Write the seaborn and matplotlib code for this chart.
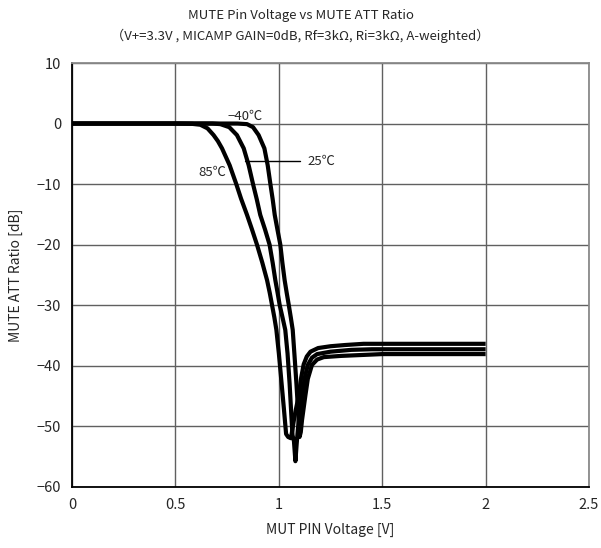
import matplotlib
matplotlib.use("Agg")
import matplotlib.pyplot as plt
import seaborn as sns
import pandas as pd

sns.set_style("white")
plt.rcParams['font.family'] = ['Noto Sans CJK JP', 'DejaVu Sans']

# Data
v_85 = [0, 0.5, 0.58, 0.62, 0.655, 0.684, 0.705, 0.725, 0.762, 0.794, 0.817, 0.846,
        0.87, 0.894, 0.92, 0.943, 0.956, 0.967, 0.978, 0.988, 1.0, 1.012, 1.024, 1.035,
        1.045, 1.058, 1.066, 1.075, 1.085, 1.096, 1.108, 1.12, 1.135, 1.153, 1.19, 1.25,
        1.32, 1.41, 2.0]
db_85 = [0, 0, -0.05, -0.2, -0.8, -1.9, -2.9, -4.1, -6.9, -10.0, -12.4, -15.1,
         -17.5, -20.0, -23.0, -25.9, -28.0, -30.0, -32.0, -34.1, -38.0, -42.5, -47.0, -51.3,
         -51.8, -52.0, -50.5, -48.5, -46.8, -45.0, -42.0, -39.8, -38.5, -37.7, -37.1, -36.8,
         -36.6, -36.4, -36.4]

v_25 = [0, 0.5, 0.68, 0.717, 0.76, 0.797, 0.83, 0.854, 0.875, 0.893, 0.91, 0.933, 0.955,
        0.97, 0.983, 0.994, 1.004, 1.018, 1.031, 1.042, 1.052, 1.06,
        1.066, 1.073, 1.08, 1.086, 1.092, 1.1, 1.112, 1.125, 1.14, 1.16, 1.185, 1.25, 1.35,
        1.45, 2.0]
db_25 = [0, 0, 0, -0.1, -0.6, -1.9, -4.1, -6.9, -10.0, -12.5, -15.1, -17.5, -20.0,
         -23.0, -25.9, -28.0, -30.0, -32.1, -34.1, -38.0, -43.0, -48.0,
         -51.5, -52.5, -55.8, -53.0, -50.5, -48.0, -45.0, -42.0, -39.9, -38.7, -38.1, -37.7, -37.4,
         -37.3, -37.3]

v_m40 = [0, 0.5, 0.8, 0.846, 0.875, 0.902, 0.93, 0.946, 0.959, 0.97, 0.98, 0.993, 1.007,
         1.017, 1.028, 1.038, 1.048, 1.058, 1.067, 1.076, 1.085, 1.093,
         1.10, 1.106, 1.112, 1.12, 1.128, 1.14, 1.16, 1.185, 1.217, 1.3, 1.5, 2.0]
db_m40 = [0, 0, 0, -0.1, -0.6, -1.9, -4.1, -6.9, -10.0, -12.5, -15.1, -17.5, -20.0,
          -23.0, -25.9, -28.0, -30.0, -32.1, -34.1, -38.5, -43.0, -47.5,
          -51.8, -51.0, -49.0, -47.0, -45.0, -42.2, -39.9, -39.0, -38.6, -38.4, -38.1, -38.1]

series_names = ['85℃', '25℃', '-40℃']

frames = []
for name, v, d in zip(series_names, [v_85, v_25, v_m40], [db_85, db_25, db_m40]):
    frames.append(pd.DataFrame({'V': v, 'dB': d, 'T': name}))
df = pd.concat(frames, ignore_index=True)

fig = plt.figure(figsize=(6.01, 5.48), dpi=100)
ax = fig.add_axes([0.12, 0.112, 0.86, 0.773])

sns.lineplot(data=df, x='V', y='dB', hue='T', palette=['black'] * 3, linewidth=3,
             legend=False, ax=ax, sort=False, estimator=None)
for line in ax.get_lines():
    line.set_solid_joinstyle('round')
    line.set_solid_capstyle('butt')

ax.set_xlim(0, 2.5)
ax.set_ylim(-60, 10)
ax.set_xticks([0, 0.5, 1, 1.5, 2, 2.5])
ax.set_xticklabels(['0', '0.5', '1', '1.5', '2', '2.5'])
ax.set_yticks([10, 0, -10, -20, -30, -40, -50, -60])
ax.set_yticklabels(['10', '0', '−10', '−20', '−30', '−40', '−50', '−60'])
ax.tick_params(length=0, labelsize=10.5, pad=8)
ax.grid(True, color='#606060', linewidth=1)
ax.set_axisbelow(True)
for s in ['left', 'bottom']:
    ax.spines[s].set_color('black')
    ax.spines[s].set_linewidth(1.3)
for s in ['top', 'right']:
    ax.spines[s].set_color('#8a8a8a')
    ax.spines[s].set_linewidth(1.3)

ax.set_xlabel('MUT PIN Voltage [V]', fontsize=10, labelpad=8)
ax.set_ylabel('MUTE ATT Ratio [dB]', fontsize=10, labelpad=10)

fig.text(0.5, 0.972, 'MUTE Pin Voltage vs MUTE ATT Ratio', ha='center', va='center', fontsize=9.5)
fig.text(0.5, 0.935, '（V+=3.3V , MICAMP GAIN=0dB, Rf=3kΩ, Ri=3kΩ, A-weighted）',
         ha='center', va='center', fontsize=9.5)

ax.text(0.75, 1.1, '−40℃', ha='left', va='center', fontsize=9.5)
ax.text(1.138, -6.2, '25℃', ha='left', va='center', fontsize=9.5)
ax.plot([0.838, 1.104], [-6.2, -6.2], color='black', linewidth=1)
ax.text(0.678, -8.0, '85℃', ha='center', va='center', fontsize=9.5)

fig.savefig('out.png', dpi=100)
